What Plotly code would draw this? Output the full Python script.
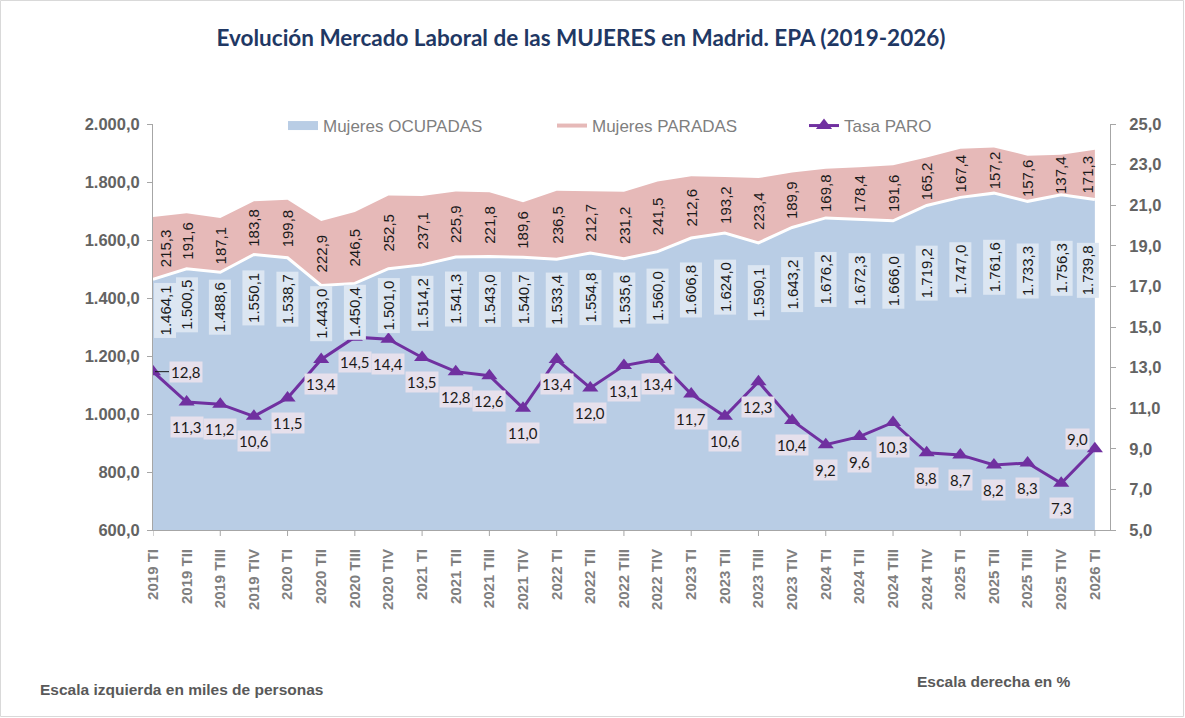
import plotly.graph_objects as go

periodos = ["2019 TI", "2019 TII", "2019 TIII", "2019 TIV",
            "2020 TI", "2020 TII", "2020 TIII", "2020 TIV",
            "2021 TI", "2021 TII", "2021 TIII", "2021 TIV",
            "2022 TI", "2022 TII", "2022 TIII", "2022 TIV",
            "2023 TI", "2023 TII", "2023 TIII", "2023 TIV",
            "2024 TI", "2024 TII", "2024 TIII", "2024 TIV",
            "2025 TI", "2025 TII", "2025 TIII", "2025 TIV",
            "2026 TI"]

ocupadas = [1464.1, 1500.5, 1488.6, 1550.1, 1538.7, 1443.0, 1450.4, 1501.0,
            1514.2, 1541.3, 1543.0, 1540.7, 1533.4, 1554.8, 1535.6, 1560.0,
            1606.8, 1624.0, 1590.1, 1643.2, 1676.2, 1672.3, 1666.0, 1719.2,
            1747.0, 1761.6, 1733.3, 1756.3, 1739.8]

paradas = [215.3, 191.6, 187.1, 183.8, 199.8, 222.9, 246.5, 252.5,
           237.1, 225.9, 221.8, 189.6, 236.5, 212.7, 231.2, 241.5,
           212.6, 193.2, 223.4, 189.9, 169.8, 178.4, 191.6, 165.2,
           167.4, 157.2, 157.6, 137.4, 171.3]

tasa_paro = [12.8, 11.3, 11.2, 10.6, 11.5, 13.4, 14.5, 14.4,
             13.5, 12.8, 12.6, 11.0, 13.4, 12.0, 13.1, 13.4,
             11.7, 10.6, 12.3, 10.4, 9.2, 9.6, 10.3, 8.8,
             8.7, 8.2, 8.3, 7.3, 9.0]

left_ticks = list(range(600, 2001, 200))
right_ticks = list(range(5, 26, 2))

BLUE = "#B9CDE5"
PINK = "#E6B9B8"
PURPLE = "#7030A0"
AXIS = "#A6A6A6"
YTICK = "#636363"
XTICK = "#7F7F7F"

W, H = 1185, 718
L, R, T, B = 153, 1110, 124, 530  # plot area in pixels
PW, PH = R - L, B - T


def px_x(p):
    return (p - L) / PW


def px_y(p):
    return (B - p) / PH


def es(v, dec=1):
    s = f"{v:,.{dec}f}"
    return s.replace(",", "X").replace(".", ",").replace("X", ".")


x = list(range(len(periodos)))
total = [o + p for o, p in zip(ocupadas, paradas)]

fig = go.Figure()
fig.add_trace(go.Scatter(x=x, y=ocupadas, name="Mujeres OCUPADAS", mode="lines",
                         line=dict(width=0, color=BLUE), fill="tozeroy", fillcolor=BLUE,
                         showlegend=False, hoverinfo="skip"))
fig.add_trace(go.Scatter(x=x, y=total, name="Mujeres PARADAS", mode="lines",
                         line=dict(width=0, color=PINK), fill="tonexty", fillcolor=PINK,
                         showlegend=False, hoverinfo="skip"))
fig.add_trace(go.Scatter(x=x, y=ocupadas, mode="lines", line=dict(color="white", width=3),
                         showlegend=False, hoverinfo="skip"))
fig.add_trace(go.Scatter(x=x, y=tasa_paro, name="Tasa PARO", yaxis="y2", mode="lines+markers",
                         line=dict(color=PURPLE, width=3),
                         marker=dict(symbol="triangle-up", size=14, color=PURPLE),
                         legend="legend3"))
# legend-only entries
fig.add_trace(go.Scatter(x=[None], y=[None], name="Mujeres OCUPADAS", mode="lines",
                         line=dict(color=BLUE, width=9), legend="legend"))
fig.add_trace(go.Scatter(x=[None], y=[None], name="Mujeres PARADAS", mode="lines",
                         line=dict(color=PINK, width=4), legend="legend2"))

ann = []
n = len(x)
for i in x:
    xs = 12 if i == 0 else (-7 if i == n - 1 else 0)
    ann.append(dict(x=i, y=(ocupadas[i] + 1250) / 2, xref="x", yref="y", text=es(ocupadas[i]),
                    textangle=-90, showarrow=False, bgcolor="#DCE6F2", borderpad=2, xshift=xs,
                    font=dict(family="Liberation Sans, Arial", size=15, color="#1a1a1a")))
    ann.append(dict(x=i, y=ocupadas[i] + paradas[i] / 2, xref="x", yref="y", text=es(paradas[i]),
                    textangle=-90, showarrow=False, xshift=xs,
                    font=dict(family="Liberation Sans, Arial", size=15, color="#1a1a1a")))
    tfont = dict(family="Lato, Noto Sans", size=15, color="#1a1a1a")
    if i == 0:
        ann.append(dict(x=i, y=tasa_paro[i], xref="x", yref="y2", text=es(tasa_paro[i]),
                        showarrow=True, arrowhead=0, arrowwidth=1, arrowcolor="#1a1a1a",
                        ax=16, ay=0, xanchor="left", standoff=2,
                        bgcolor="#E6E0EC", borderpad=1, font=tfont))
    elif i == n - 1:
        ann.append(dict(x=i, y=tasa_paro[i], xref="x", yref="y2", text=es(tasa_paro[i]),
                        showarrow=False, xshift=-17, yshift=10,
                        bgcolor="#E6E0EC", borderpad=1, font=tfont))
    else:
        ann.append(dict(x=i, y=tasa_paro[i], xref="x", yref="y2", text=es(tasa_paro[i]),
                        showarrow=False, yshift=-25,
                        bgcolor="#E6E0EC", borderpad=1, font=tfont))

notefont = dict(family="Liberation Sans, Arial", size=15.5, color="#595959", weight="bold")
ann.append(dict(xref="paper", yref="paper", x=px_x(38), y=px_y(689),
                xanchor="left", yanchor="middle", showarrow=False,
                text="Escala izquierda en miles de personas", font=notefont))
ann.append(dict(xref="paper", yref="paper", x=px_x(915), y=px_y(681),
                xanchor="left", yanchor="middle", showarrow=False,
                text="Escala derecha en %", font=notefont))

shapes = []
for i in x[::2]:
    shapes.append(dict(type="line", xref="x", yref="paper", x0=i, x1=i, y0=0, y1=-6 / PH,
                       line=dict(color=AXIS, width=1)))
shapes.append(dict(type="rect", xref="paper", yref="paper",
                   x0=px_x(0.5), x1=px_x(W - 1.5), y0=px_y(H - 1.5), y1=px_y(0.5),
                   line=dict(color="#D9D9D9", width=1), fillcolor="rgba(0,0,0,0)", layer="below"))

ytickfont = dict(family="Liberation Sans, Arial", size=16.5, color=YTICK, weight="bold")
legfont = dict(family="Liberation Sans, Arial", size=17, color="#7F7F7F")


def leg(xpix):
    return dict(orientation="h", x=px_x(xpix), y=px_y(126), xanchor="left", yanchor="middle",
                bgcolor="rgba(0,0,0,0)", font=legfont)


fig.update_layout(
    width=W, height=H, autosize=False,
    margin=dict(l=L, r=W - R, t=T, b=H - B),
    paper_bgcolor="white", plot_bgcolor="white",
    separators=",.",
    title=dict(text="Evolución Mercado Laboral de las MUJERES en Madrid. EPA (2019-2026)",
               x=581 / W, xanchor="center", y=1 - 38 / H, yanchor="middle",
               font=dict(family="Lato, Noto Sans", size=22.5, color="#1F3864", weight="bold")),
    xaxis=dict(range=[0, 28.45], tickmode="array", tickvals=x, ticktext=periodos,
               tickangle=-90, ticks="", showline=True, linecolor=AXIS, linewidth=1,
               showgrid=False, zeroline=False, ticklabelstandoff=12,
               tickfont=dict(family="Liberation Sans, Arial", size=15, color=XTICK, weight="bold")),
    yaxis=dict(range=[600, 2000], tickmode="array", tickvals=left_ticks, tickformat=",.1f",
               ticks="outside", ticklen=5, tickcolor=AXIS, showline=True, linecolor=AXIS,
               showgrid=False, zeroline=False, tickfont=ytickfont, ticklabelstandoff=4),
    yaxis2=dict(range=[5, 25], tickmode="array", tickvals=right_ticks, tickformat=".1f",
                overlaying="y", side="right", ticks="outside", ticklen=5, tickcolor=AXIS,
                showline=True, linecolor=AXIS, showgrid=False, zeroline=False, tickfont=ytickfont,
                ticklabelstandoff=10),
    legend=leg(283),
    legend2=leg(552),
    legend3=leg(804),
    annotations=ann,
    shapes=shapes,
    showlegend=True,
)

fig.write_html("out.html", config={"displayModeBar": False},
               post_script="document.body.style.margin='0';document.body.style.padding='0';"
                           "document.documentElement.style.overflow='hidden';")
